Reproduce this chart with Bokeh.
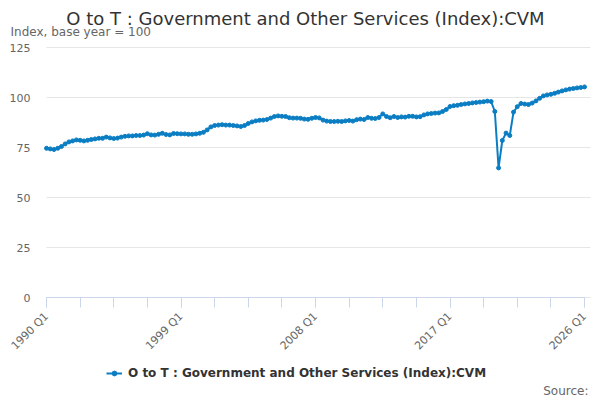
import math
from bokeh.plotting import figure
from bokeh.models import (ColumnDataSource, FixedTicker, Label, Legend, LegendItem)
from bokeh.embed import file_html
from bokeh.resources import INLINE

# ---- data ----
start_year = 1990
values = [
    74.6, 74.3, 74.0, 74.6,    # 1990
    75.5, 76.8, 77.8, 78.3,    # 1991
    78.8, 78.6, 78.3, 78.6,    # 1992
    79.0, 79.3, 79.6, 79.6,    # 1993
    80.2, 79.8, 79.5, 79.7,    # 1994
    80.2, 80.6, 80.8, 80.8,    # 1995
    81.0, 81.0, 81.2, 81.9,    # 1996
    81.3, 81.2, 81.6, 82.1,    # 1997
    81.5, 81.3, 82.0, 81.9,    # 1998
    81.8, 81.8, 81.6, 81.6,    # 1999
    81.8, 82.1, 82.6, 83.8,    # 2000
    85.3, 86.0, 86.2, 86.4,    # 2001
    86.2, 86.2, 86.0, 85.8,    # 2002
    85.5, 86.0, 87.0, 87.8,    # 2003
    88.3, 88.6, 88.7, 89.0,    # 2004
    89.7, 90.5, 90.8, 90.6,    # 2005
    90.5, 89.9, 89.7, 89.7,    # 2006
    89.6, 89.2, 89.1, 89.6,    # 2007
    90.0, 89.8, 88.7, 88.2,    # 2008
    88.0, 88.0, 88.1, 88.0,    # 2009
    88.3, 88.5, 88.2, 88.9,    # 2010
    89.2, 89.0, 90.0, 89.6,    # 2011
    89.5, 90.0, 91.8, 90.5,    # 2012
    89.9, 90.5, 90.0, 90.3,    # 2013
    90.2, 90.6, 90.6, 90.3,    # 2014
    90.4, 91.3, 91.8, 92.0,    # 2015
    92.2, 92.3, 93.0, 94.0,    # 2016
    95.5, 95.9, 96.1, 96.5,    # 2017
    96.8, 97.0, 97.3, 97.5,    # 2018
    97.7, 97.9, 98.2, 98.0,    # 2019
    93.0, 64.8, 78.5, 82.2,    # 2020
    81.0, 92.7, 95.4, 97.0,    # 2021
    96.7, 96.5, 97.2, 98.3,    # 2022
    99.6, 100.8, 101.3, 101.6, # 2023
    102.1, 102.7, 103.3, 103.8, # 2024
    104.2, 104.5, 104.8, 105.0, # 2025
    105.3,                     # 2026 Q1
]
periods = [f"{start_year + i // 4} Q{i % 4 + 1}" for i in range(len(values))]
x_label_ticks = [0, 36, 72, 108, 144]
x_tick_labels = ["1990 Q1", "1999 Q1", "2008 Q1", "2017 Q1", "2026 Q1"]
y_ticks = [0, 25, 50, 75, 100, 125]
series_name = "O to T : Government and Other Services (Index):CVM"
title_text = "O to T : Government and Other Services (Index):CVM"
subtitle_text = "Index, base year = 100"
source_text = "Source:"

FONT = "DejaVu Sans"
BLUE = "#0b7ec3"

# ---- layout (pixels): plot area x 46..584, value 0 at y=297, 125 at y=47 ----
W, H = 600, 400
PL, PR, PT, PB = 46, 584, 47, 297
n = len(values) - 1
ppx = (PR - PL) / n
ppy = (PB - PT) / (y_ticks[-1] - y_ticks[0])
x_range = (-PL / ppx, n + (W - PR) / ppx)
y_range = (-(H - PB) / ppy, PB / ppy)

src = ColumnDataSource(dict(x=list(range(len(values))), y=values, period=periods))

p = figure(width=W, height=H, output_backend="svg", toolbar_location=None,
           x_range=x_range, y_range=y_range,
           min_border_left=0, min_border_right=0, min_border_top=0, min_border_bottom=0)
p.outline_line_color = None
p.background_fill_color = "white"
p.border_fill_color = "white"

line = p.line("x", "y", source=src, line_color=BLUE, line_width=2)
pts = p.scatter("x", "y", source=src, marker="circle", size=4,
                fill_color=BLUE, line_color=BLUE)

# x axis pinned at value 0
xa = p.xaxis[0]
xa.fixed_location = 0
xa.bounds = (0, n)
xa.ticker = FixedTicker(ticks=x_label_ticks, minor_ticks=list(range(0, len(values), 9)))
xa.major_label_overrides = {t: l for t, l in zip(x_label_ticks, x_tick_labels)}
xa.axis_line_color = "#ccd6eb"
xa.major_tick_line_color = "#ccd6eb"
xa.minor_tick_line_color = "#ccd6eb"
xa.major_tick_in = 0
xa.major_tick_out = 10
xa.minor_tick_in = 0
xa.minor_tick_out = 10
xa.major_label_orientation = math.pi / 4
xa.major_label_text_font = FONT
xa.major_label_text_font_size = "11px"
xa.major_label_text_color = "#666666"
xa.major_label_standoff = 7

# y axis pinned at the first quarter
ya = p.yaxis[0]
ya.fixed_location = 0
ya.bounds = (y_ticks[0], y_ticks[-1])
ya.ticker = FixedTicker(ticks=y_ticks, minor_ticks=[])
ya.axis_line_color = None
ya.minor_tick_line_color = None
ya.major_tick_out = 0
ya.major_label_standoff = 16
ya.major_label_text_font = FONT
ya.major_label_text_font_size = "11px"
ya.major_label_text_color = "#666666"

p.xgrid.grid_line_color = None
grid = p.ygrid[0]
grid.ticker = FixedTicker(ticks=y_ticks)
if "cross_bounds" in grid.properties():
    grid.cross_bounds = (0, n + 6 / ppx)
    grid.grid_line_color = "#e6e6e6"
    ya.major_tick_line_color = None
    ya.major_tick_in = 0
else:
    grid.grid_line_color = None
    ya.major_tick_line_color = "#e6e6e6"
    ya.major_tick_in = int(PR - PL + 6)

# texts (screen units from the bottom-left corner of the picture)
p.add_layout(Label(x=305, y=H - 18, x_units="screen", y_units="screen", text=title_text,
                   text_font=FONT, text_font_size="18px", text_color="#333333",
                   text_align="center", text_baseline="middle"))
p.add_layout(Label(x=10, y=H - 31, x_units="screen", y_units="screen", text=subtitle_text,
                   text_font=FONT, text_font_size="12px", text_color="#666666",
                   text_align="left", text_baseline="middle"))
p.add_layout(Label(x=588, y=H - 390, x_units="screen", y_units="screen", text=source_text,
                   text_font=FONT, text_font_size="12px", text_color="#666666",
                   text_align="right", text_baseline="middle"))

legend = Legend(items=[LegendItem(label=series_name, renderers=[line, pts])],
                location=(106, H - 381), orientation="horizontal",
                padding=0, margin=0, spacing=0,
                glyph_width=16, glyph_height=12, label_height=16, label_standoff=6,
                label_text_font=FONT, label_text_font_size="12px",
                label_text_font_style="bold", label_text_color="#333333",
                border_line_color=None, background_fill_alpha=0)
p.add_layout(legend, "center")

open("out.html", "w").write(file_html(p, INLINE))
